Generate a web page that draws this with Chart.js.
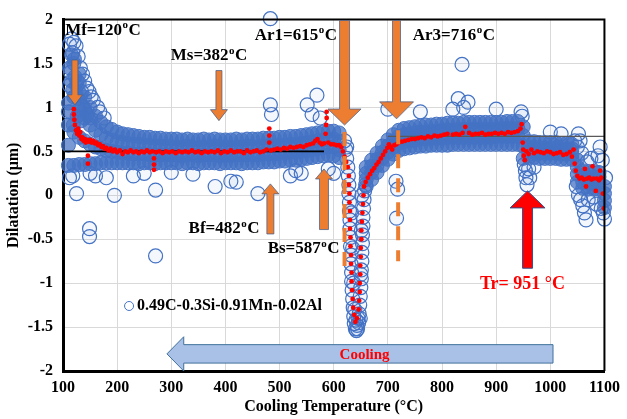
<!DOCTYPE html>
<html>
<head>
<meta charset="utf-8">
<script src="https://cdn.jsdelivr.net/npm/chart.js@4.4.1/dist/chart.umd.min.js"></script>
<style>
  html, body { margin: 0; padding: 0; background: #ffffff; }
  #dilatationChart { display: block; }
</style>
</head>
<body>
<canvas id="dilatationChart" width="627" height="419"></canvas>
<script>
// Dilatation band (row centres of the blue circle cloud)
const bandTemp = [
    110, 120, 130, 140, 150, 160, 170, 180, 190, 200,
    210, 220, 230, 240, 250, 260, 270, 280, 290, 300,
    310, 320, 330, 340, 350, 360, 370, 380, 390, 400,
    410, 420, 430, 440, 450, 460, 470, 480, 490, 500,
    510, 520, 530, 540, 550, 560, 570, 580, 590, 600, 610,
    660, 670, 680, 690, 700, 710, 720, 730, 740, 750,
    760, 770, 780, 790, 800, 810, 820, 830, 840, 850,
    860, 870, 880, 890, 900, 910, 920, 930, 940, 950,
    960, 970, 980, 990, 1000, 1010, 1020, 1030, 1040, 1050,
    1060, 1070, 1080, 1090, 1100
];
const bandTop = [
    1.05, 1.50, 1.28, 1.12, 1.00, 0.90, 0.83, 0.78, 0.75, 0.72,
    0.70, 0.69, 0.68, 0.67, 0.66, 0.66, 0.65, 0.65, 0.64, 0.64,
    0.64, 0.63, 0.64, 0.63, 0.63, 0.64, 0.63, 0.64, 0.63, 0.63,
    0.63, 0.64, 0.63, 0.64, 0.64, 0.64, 0.65, 0.65, 0.65, 0.66,
    0.66, 0.67, 0.67, 0.68, 0.69, 0.70, 0.71, 0.72, 0.73, 0.73, 0.71,
    0.32, 0.40, 0.48, 0.56, 0.63, 0.69, 0.74, 0.76, 0.77, 0.78,
    0.79, 0.80, 0.80, 0.81, 0.81, 0.82, 0.82, 0.82, 0.83, 0.83,
    0.83, 0.83, 0.83, 0.83, 0.83, 0.83, 0.84, 0.84, 0.84, 0.78,
    0.61, 0.61, 0.60, 0.60, 0.60, 0.60, 0.59, 0.59, 0.58, 0.40,
    0.28, 0.27, 0.27, 0.26, 0.10
];
const bandUpMid = [
    0.80, 1.12, 0.98, 0.88, 0.80, 0.74, 0.69, 0.65, 0.63, 0.61,
    0.60, 0.59, 0.58, 0.58, 0.57, 0.57, 0.56, 0.56, 0.56, 0.55,
    0.55, 0.55, 0.56, 0.55, 0.54, 0.55, 0.55, 0.56, 0.55, 0.55,
    0.54, 0.55, 0.55, 0.56, 0.55, 0.55, 0.56, 0.56, 0.56, 0.57,
    0.57, 0.58, 0.58, 0.59, 0.60, 0.61, 0.62, 0.63, 0.64, 0.64, 0.61,
    0.25, 0.33, 0.41, 0.49, 0.56, 0.62, 0.67, 0.69, 0.70, 0.71,
    0.72, 0.72, 0.73, 0.73, 0.74, 0.74, 0.74, 0.75, 0.75, 0.75,
    0.75, 0.75, 0.75, 0.75, 0.75, 0.76, 0.76, 0.76, 0.76, 0.68,
    0.55, 0.55, 0.54, 0.54, 0.54, 0.54, 0.53, 0.53, 0.53, 0.32,
    0.22, 0.21, 0.21, 0.21, 0.02
];
const bandLowMid = [
    0.57, 0.72, 0.66, 0.62, 0.58, 0.55, 0.53, 0.51, 0.50, 0.49,
    0.48, 0.48, 0.47, 0.47, 0.47, 0.46, 0.46, 0.46, 0.46, 0.46,
    0.46, 0.45, 0.46, 0.46, 0.45, 0.46, 0.46, 0.46, 0.45, 0.46,
    0.45, 0.46, 0.46, 0.46, 0.46, 0.46, 0.47, 0.47, 0.47, 0.48,
    0.48, 0.49, 0.49, 0.50, 0.51, 0.52, 0.53, 0.54, 0.55, 0.55, 0.52,
    0.18, 0.26, 0.34, 0.42, 0.49, 0.55, 0.59, 0.61, 0.62, 0.63,
    0.64, 0.64, 0.65, 0.65, 0.65, 0.66, 0.66, 0.66, 0.66, 0.66,
    0.66, 0.66, 0.66, 0.66, 0.67, 0.67, 0.67, 0.67, 0.67, 0.56,
    0.49, 0.49, 0.48, 0.48, 0.48, 0.48, 0.47, 0.47, 0.47, 0.24,
    0.15, 0.14, 0.14, 0.14, -0.06
];
const bandBottom = [
    0.34, 0.34, 0.35, 0.35, 0.36, 0.36, 0.37, 0.37, 0.37, 0.37,
    0.37, 0.37, 0.37, 0.36, 0.37, 0.37, 0.36, 0.37, 0.37, 0.37,
    0.37, 0.36, 0.37, 0.37, 0.36, 0.37, 0.37, 0.37, 0.36, 0.37,
    0.37, 0.37, 0.36, 0.37, 0.37, 0.37, 0.38, 0.38, 0.38, 0.39,
    0.39, 0.40, 0.40, 0.41, 0.42, 0.43, 0.44, 0.45, 0.46, 0.45, 0.43,
    0.10, 0.18, 0.26, 0.34, 0.41, 0.47, 0.51, 0.53, 0.54, 0.55,
    0.56, 0.56, 0.57, 0.57, 0.57, 0.57, 0.58, 0.58, 0.58, 0.58,
    0.58, 0.58, 0.58, 0.58, 0.58, 0.58, 0.58, 0.58, 0.58, 0.42,
    0.43, 0.43, 0.42, 0.42, 0.42, 0.42, 0.41, 0.41, 0.41, 0.15,
    0.08, 0.07, 0.07, 0.07, -0.14
];

// dense patch at the start of the record (110-150 °C)
const spikeTemp = [112, 115, 118, 122, 125, 128, 132, 136, 114, 126, 140, 145, 150, 116, 121, 130, 119, 134];
const spikeVal = [1.45, 1.30, 1.20, 1.35, 1.25, 1.10, 1.15, 1.02, 0.95, 0.90, 0.98, 0.92, 0.88, 1.60, 1.55, 1.38, 0.80, 0.85];

// the deep dip around 620-660 °C
const valleyTemp = [
    620, 622, 624, 626, 627, 628, 628, 629, 629, 630, 630, 631, 631,
    632, 632, 633, 633, 634, 635, 636, 637, 638, 640, 642, 644, 646,
    647, 648, 649, 650, 651, 651, 652, 652, 653, 653, 654, 654, 655,
    656, 657, 659,
    624, 633, 635, 637, 639, 641, 643, 645, 649, 650, 651, 652
];
const valleyVal = [
    0.62, 0.52, 0.42, 0.32, 0.22, 0.12, 0.02, -0.08, -0.18, -0.28, -0.38, -0.48, -0.58,
    -0.68, -0.78, -0.88, -0.98, -1.08, -1.18, -1.28, -1.38, -1.46, -1.52, -1.54, -1.52, -1.45,
    -1.35, -1.25, -1.15, -1.05, -0.95, -0.85, -0.75, -0.65, -0.55, -0.45, -0.35, -0.25, -0.15,
    -0.05, 0.05, 0.12,
    0.55, -0.20, -0.60, -1.00, -1.30, -1.42, -1.48, -1.40, -1.40, -0.90, -0.40, 0.00
];

// scattered single circles
const outlierTemp = [
    112, 116, 120, 124, 118, 128, 132, 136, 126, 140, 144, 148, 152, 156, 134, 114, 112, 110,
    164, 168, 176, 112, 118, 125, 150, 160, 180, 195, 149, 149, 271, 271, 381, 410, 420, 460,
    483, 483, 485, 551, 569, 560, 575, 230, 250, 300, 340, 520, 530, 540, 590, 600,
    837, 830, 848, 840, 820, 715, 716, 718, 700, 760, 900, 946, 948,
    952, 954, 955, 957, 962, 960, 970, 1000, 1020,
    1045, 1050, 1052, 1055, 1058, 1048, 1052, 1056, 1060, 1063, 1066, 1070, 1080, 1085,
    1088, 1092, 1096, 1098, 1100, 1102, 1094, 1075, 1068
];
const outlierVal = [
    1.72, 1.78, 1.74, 1.70, 1.62, 1.58, 1.45, 1.38, 1.30, 1.30, 1.22, 1.18, 1.12, 1.08, 1.18, 1.40, 1.25, 0.95,
    1.00, 0.95, 0.88, 0.20, 0.22, 0.02, 0.25, 0.22, 0.20, 0.00, -0.38, -0.47, 0.06, -0.69, 0.10, 0.16, 0.15, 0.02,
    2.01, 1.03, 0.92, 1.03, 1.14, 0.92, 0.88, 0.22, 0.25, 0.26, 0.24, 0.22, 0.28, 0.25, 0.30, 0.25,
    1.49, 1.10, 1.06, 1.00, 0.98, 0.16, -0.26, 0.07, 0.98, 0.95, 0.98, 0.95, 0.90,
    0.35, 0.28, 0.20, 0.12, 0.20, 0.30, 0.32, 0.72, 0.70,
    0.62, 0.55, 0.70, 0.62, 0.48, 0.10, 0.00, -0.05, -0.12, -0.20, -0.28, -0.05, -0.02, -0.10,
    0.45, 0.55, 0.40, -0.20, -0.27, 0.20, -0.15, 0.42, 0.38
];

// red averaged points
const avgTemp = [
    120, 120, 121, 122, 124, 126, 128, 130, 132, 134, 136, 138, 140, 142, 144, 146, 146, 148, 150, 153,
    156, 159, 162, 165, 168, 171, 174, 177, 180, 184, 188, 192, 196, 200, 205, 210, 215, 220, 225, 230,
    235, 240, 245, 250, 255, 260, 265, 268, 268, 268, 272, 278, 284, 290, 296, 302, 308, 314, 320, 326,
    332, 338, 344, 350, 356, 362, 368, 374, 380, 386, 392, 398, 404, 410, 416, 422, 428, 434, 440, 446,
    452, 458, 464, 470, 476, 481, 481, 481, 484, 490, 496, 502, 508, 514, 520, 526, 532, 538, 544, 550,
    556, 562, 566, 570, 574, 578, 582, 585, 586, 587, 587, 590, 595, 600, 605, 610, 614, 617, 620, 623,
    626, 628, 628, 629, 629, 630, 630, 630, 631, 631, 632, 632, 633, 633, 634, 635, 636, 638, 640, 643,
    646, 647, 648, 648, 649, 649, 650, 650, 651, 651, 652, 653, 654, 655, 656, 659, 663, 667, 671, 675,
    679, 683, 687, 691, 695, 699, 702, 705, 708, 712, 716, 720, 726, 732, 738, 744, 750, 756, 762, 768,
    774, 780, 786, 792, 798, 804, 810, 820, 826, 832, 838, 843, 850, 856, 862, 868, 874, 880, 886, 892,
    898, 904, 910, 916, 922, 928, 934, 940, 945, 947, 949, 950, 951, 953, 956, 960, 965, 970, 976, 982,
    988, 994, 1000, 1006, 1012, 1018, 1024, 1030, 1036, 1040, 1043, 1045, 1047, 1050, 1054, 1058, 1062, 1064, 1066, 1068,
    1072, 1076, 1078, 1080, 1084, 1086, 1090, 1092, 1094, 1097, 1099
];
const avgVal = [
    0.98, 0.92, 0.86, 0.80, 0.74, 0.70, 0.76, 0.68, 0.72, 0.64, 0.66, 0.62, 0.64, 0.60, 0.63, 0.45, 0.36, 0.61, 0.63, 0.60,
    0.62, 0.59, 0.60, 0.57, 0.58, 0.55, 0.56, 0.53, 0.54, 0.51, 0.53, 0.50, 0.52, 0.49, 0.51, 0.47, 0.50, 0.49, 0.51, 0.49,
    0.50, 0.48, 0.50, 0.49, 0.51, 0.49, 0.50, 0.42, 0.35, 0.29, 0.49, 0.50, 0.48, 0.50, 0.49, 0.50, 0.48, 0.50, 0.49, 0.50,
    0.49, 0.51, 0.49, 0.50, 0.48, 0.50, 0.49, 0.50, 0.49, 0.51, 0.48, 0.50, 0.49, 0.51, 0.49, 0.50, 0.50, 0.48, 0.51, 0.49,
    0.50, 0.51, 0.49, 0.50, 0.52, 0.60, 0.68, 0.76, 0.51, 0.52, 0.53, 0.52, 0.54, 0.53, 0.55, 0.54, 0.55, 0.56, 0.55, 0.57,
    0.58, 0.59, 0.62, 0.64, 0.60, 0.58, 0.59, 0.70, 0.80, 0.88, 0.95, 0.60, 0.58, 0.58, 0.57, 0.57, 0.55, 0.50, 0.44, 0.38,
    0.32, 0.22, 0.12, 0.02, -0.08, -0.18, -0.28, -0.38, -0.48, -0.58, -0.68, -0.78, -0.88, -0.98, -1.08, -1.18, -1.28, -1.36, -1.44, -1.40,
    -1.30, -1.20, -1.10, -1.00, -0.90, -0.80, -0.70, -0.60, -0.50, -0.40, -0.30, -0.20, -0.10, 0.00, 0.10, 0.15, 0.20, 0.24, 0.28, 0.31,
    0.35, 0.38, 0.42, 0.46, 0.50, 0.54, 0.58, 0.55, 0.52, 0.57, 0.58, 0.60, 0.61, 0.62, 0.63, 0.64, 0.64, 0.65, 0.66, 0.65,
    0.67, 0.66, 0.68, 0.67, 0.68, 0.69, 0.70, 0.69, 0.70, 0.69, 0.71, 0.78, 0.71, 0.69, 0.70, 0.70, 0.71, 0.69, 0.70, 0.70,
    0.71, 0.70, 0.71, 0.70, 0.72, 0.71, 0.72, 0.73, 0.76, 0.81, 0.60, 0.52, 0.45, 0.40, 0.50, 0.47, 0.52, 0.48, 0.50, 0.49,
    0.48, 0.50, 0.49, 0.47, 0.48, 0.49, 0.46, 0.47, 0.49, 0.44, 0.52, 0.36, 0.28, 0.22, 0.19, 0.20, 0.18, 0.30, 0.10, 0.19,
    0.20, 0.18, 0.33, 0.19, 0.05, 0.19, 0.17, 0.28, 0.20, 0.02, -0.15
];

// horizontal reference lines
const baseLineTemp = [103, 582];
const baseLineVal = [0.5, 0.5];
const upperLineTemp = [700, 1100];
const upperLineVal = [0.67, 0.67];

// axis ticks
const xTicks = [100, 200, 300, 400, 500, 600, 700, 800, 900, 1000, 1100];
const yTicks = [-2, -1.5, -1, -0.5, 0, 0.5, 1, 1.5, 2];

const seriesName = '0.49C-0.3Si-0.91Mn-0.02Al';

document.addEventListener('DOMContentLoaded', function() {
    try {
        const FONT = '"Liberation Serif", "Times New Roman", serif';
        const BLUE = '#4472C4';
        const ORANGE = '#ED7D31';

        function toPoints(xs, ys) {
            return xs.map((x, i) => ({ x: x, y: ys[i] }));
        }

        // dense core of the cloud
        const band = []
            .concat(toPoints(bandTemp, bandTop))
            .concat(toPoints(bandTemp, bandUpMid))
            .concat(toPoints(bandTemp, bandLowMid))
            .concat(toPoints(bandTemp, bandBottom))
            .concat(toPoints(spikeTemp, spikeVal));
        // loose circles
        const loose = []
            .concat(toPoints(valleyTemp, valleyVal))
            .concat(toPoints(outlierTemp, outlierVal));

        // annotation placement in data units (temperature, dilatation); sizes in px
        const downArrows = [
            { t: 122, from: 1.54, to: 1.03, shaft: 6, head: 15, headLen: 10 },
            { t: 388, from: 1.42, to: 0.85, shaft: 6, head: 17, headLen: 11 },
            { t: 620, from: 1.99, to: 0.80, shaft: 10, head: 33, headLen: 16 },
            { t: 716, from: 1.99, to: 0.87, shaft: 8, head: 34, headLen: 17 }
        ];
        const upArrows = [
            { t: 483, from: -0.44, to: 0.13, shaft: 7, head: 17, headLen: 10 },
            { t: 582, from: -0.39, to: 0.30, shaft: 9, head: 17, headLen: 10 }
        ];
        const redArrow = { t: 958, from: -0.83, to: 0.05, shaft: 10, head: 35, headLen: 17 };
        const dashedLines = [
            { t: 620, from: 0.72, to: -0.86 },
            { t: 719, from: 0.74, to: -0.75 }
        ];
        const tempLabels = [
            { text: 'Mf=120', t: 104, v: 1.88 },
            { text: 'Ms=382', t: 299, v: 1.59 },
            { text: 'Ar1=615', t: 454, v: 1.82 },
            { text: 'Ar3=716', t: 746, v: 1.82 },
            { text: 'Bf=482', t: 332, v: -0.38 },
            { text: 'Bs=587', t: 478, v: -0.61 }
        ];
        const coolingArrow = { tip: 292, headBase: 323, end: 1005, bodyTop: -1.70, bodyBottom: -1.91, headTop: -1.61, headBottom: -2.0 };

        function drawVArrow(ctx, x, yTail, yTip, shaft, head, headLen, fill, stroke) {
            const dir = yTip > yTail ? 1 : -1;
            const yBase = yTip - dir * headLen;
            ctx.beginPath();
            ctx.moveTo(x - shaft / 2, yTail);
            ctx.lineTo(x + shaft / 2, yTail);
            ctx.lineTo(x + shaft / 2, yBase);
            ctx.lineTo(x + head / 2, yBase);
            ctx.lineTo(x, yTip);
            ctx.lineTo(x - head / 2, yBase);
            ctx.lineTo(x - shaft / 2, yBase);
            ctx.closePath();
            ctx.fillStyle = fill;
            ctx.fill();
            ctx.lineWidth = 1;
            ctx.strokeStyle = stroke;
            ctx.stroke();
        }

        // label like "Mf=120" followed by a raised small "o" and "C"
        function drawTempLabel(ctx, text, x, y, size, color) {
            ctx.textAlign = 'left';
            ctx.textBaseline = 'middle';
            ctx.fillStyle = color;
            ctx.font = 'bold ' + size + 'px ' + FONT;
            ctx.fillText(text, x, y);
            const w = ctx.measureText(text).width;
            ctx.font = 'bold ' + Math.round(size * 0.62) + 'px ' + FONT;
            ctx.fillText('o', x + w + 0.5, y - size * 0.28);
            const wo = ctx.measureText('o').width;
            ctx.font = 'bold ' + size + 'px ' + FONT;
            ctx.fillText('C', x + w + wo + 1, y);
        }

        const annotationPlugin = {
            id: 'annotations',
            afterDatasetsDraw(chart) {
                const ctx = chart.ctx;
                const xs = chart.scales.x;
                const ys = chart.scales.y;
                const area = chart.chartArea;
                ctx.save();

                // frame top and right
                ctx.strokeStyle = '#000000';
                ctx.lineWidth = 2;
                ctx.beginPath();
                ctx.moveTo(area.left, area.top);
                ctx.lineTo(area.right, area.top);
                ctx.lineTo(area.right, area.bottom);
                ctx.stroke();

                // dashed orange markers
                ctx.setLineDash([14, 10]);
                ctx.strokeStyle = ORANGE;
                ctx.lineWidth = 4;
                dashedLines.forEach(d => {
                    const x = xs.getPixelForValue(d.t);
                    ctx.beginPath();
                    ctx.moveTo(x, ys.getPixelForValue(d.from));
                    ctx.lineTo(x, ys.getPixelForValue(d.to));
                    ctx.stroke();
                });
                ctx.setLineDash([]);

                downArrows.concat(upArrows).forEach(a => {
                    drawVArrow(ctx, xs.getPixelForValue(a.t), ys.getPixelForValue(a.from),
                        ys.getPixelForValue(a.to), a.shaft, a.head, a.headLen, ORANGE, 'rgba(70,95,140,0.75)');
                });
                drawVArrow(ctx, xs.getPixelForValue(redArrow.t), ys.getPixelForValue(redArrow.from),
                    ys.getPixelForValue(redArrow.to), redArrow.shaft, redArrow.head, redArrow.headLen, '#FF0000', '#2F528F');

                tempLabels.forEach(l => {
                    drawTempLabel(ctx, l.text, xs.getPixelForValue(l.t), ys.getPixelForValue(l.v), 17, '#000000');
                });

                // Tr label
                ctx.font = 'bold 18px ' + FONT;
                ctx.fillStyle = '#FF0000';
                ctx.textAlign = 'left';
                ctx.textBaseline = 'middle';
                ctx.fillText('Tr= 951 °C', xs.getPixelForValue(870), ys.getPixelForValue(-1.01));

                // cooling arrow
                const c = coolingArrow;
                ctx.beginPath();
                ctx.moveTo(xs.getPixelForValue(c.tip), ys.getPixelForValue((c.bodyTop + c.bodyBottom) / 2));
                ctx.lineTo(xs.getPixelForValue(c.headBase), ys.getPixelForValue(c.headTop));
                ctx.lineTo(xs.getPixelForValue(c.headBase), ys.getPixelForValue(c.bodyTop));
                ctx.lineTo(xs.getPixelForValue(c.end), ys.getPixelForValue(c.bodyTop));
                ctx.lineTo(xs.getPixelForValue(c.end), ys.getPixelForValue(c.bodyBottom));
                ctx.lineTo(xs.getPixelForValue(c.headBase), ys.getPixelForValue(c.bodyBottom));
                ctx.lineTo(xs.getPixelForValue(c.headBase), ys.getPixelForValue(c.headBottom));
                ctx.closePath();
                ctx.fillStyle = '#A9C1E7';
                ctx.fill();
                ctx.strokeStyle = '#41719C';
                ctx.lineWidth = 1;
                ctx.stroke();

                ctx.font = 'bold 15px ' + FONT;
                ctx.fillStyle = '#FF0000';
                ctx.textAlign = 'center';
                ctx.fillText('Cooling', xs.getPixelForValue(657), ys.getPixelForValue(-1.82));

                // legend entry inside the plot
                const lx = xs.getPixelForValue(222);
                const ly = ys.getPixelForValue(-1.26);
                ctx.beginPath();
                ctx.arc(lx, ly, 4.5, 0, Math.PI * 2);
                ctx.strokeStyle = BLUE;
                ctx.lineWidth = 1;
                ctx.stroke();
                ctx.font = 'bold 16px ' + FONT;
                ctx.fillStyle = '#000000';
                ctx.textAlign = 'left';
                ctx.fillText(seriesName, lx + 8, ly);

                ctx.restore();
            }
        };

        const ctx = document.getElementById('dilatationChart').getContext('2d');
        const dilatationChart = new Chart(ctx, {
            type: 'scatter',
            data: {
                datasets: [
                    {
                        label: 'avg',
                        data: toPoints(avgTemp, avgVal),
                        pointRadius: 2.4,
                        pointBorderWidth: 0,
                        backgroundColor: '#FF0000',
                        pointBackgroundColor: '#FF0000',
                        order: 0
                    },
                    {
                        label: 'base',
                        type: 'line',
                        data: toPoints(baseLineTemp, baseLineVal),
                        borderColor: '#000000',
                        borderWidth: 1.6,
                        pointRadius: 0,
                        order: 1
                    },
                    {
                        label: 'upper',
                        type: 'line',
                        data: toPoints(upperLineTemp, upperLineVal),
                        borderColor: '#595959',
                        borderWidth: 1.2,
                        pointRadius: 0,
                        order: 1
                    },
                    {
                        label: seriesName,
                        data: band,
                        pointRadius: 7,
                        pointBorderWidth: 1,
                        borderColor: BLUE,
                        pointBorderColor: BLUE,
                        backgroundColor: 'rgba(68,114,196,0.72)',
                        pointBackgroundColor: 'rgba(68,114,196,0.72)',
                        clip: false,
                        order: 2
                    },
                    {
                        label: seriesName + ' (loose)',
                        data: loose,
                        pointRadius: 7,
                        pointBorderWidth: 1.2,
                        borderColor: BLUE,
                        pointBorderColor: BLUE,
                        backgroundColor: 'rgba(68,114,196,0.06)',
                        pointBackgroundColor: 'rgba(68,114,196,0.06)',
                        clip: false,
                        order: 3
                    }
                ]
            },
            options: {
                responsive: false,
                animation: false,
                events: [],
                layout: { padding: { top: 17, right: 16, left: 0, bottom: 0 } },
                plugins: {
                    legend: { display: false },
                    tooltip: { enabled: false }
                },
                scales: {
                    x: {
                        type: 'linear',
                        min: xTicks[0],
                        max: xTicks[xTicks.length - 1],
                        afterBuildTicks: s => { s.ticks = xTicks.map(v => ({ value: v })); },
                        afterFit: s => { s.height = 48; },
                        ticks: {
                            padding: 7,
                            color: '#000000',
                            font: { family: FONT, size: 16, weight: 'bold' },
                            callback: v => String(v)
                        },
                        grid: { color: '#d9d9d9', drawTicks: false },
                        border: { color: '#000000', width: 3 },
                        title: {
                            display: true,
                            text: 'Cooling Temperature (°C)',
                            color: '#000000',
                            font: { family: FONT, size: 16, weight: 'bold' },
                            padding: { top: 3, bottom: 3 }
                        }
                    },
                    y: {
                        type: 'linear',
                        min: yTicks[0],
                        max: yTicks[yTicks.length - 1],
                        afterBuildTicks: s => { s.ticks = yTicks.map(v => ({ value: v })); },
                        afterFit: s => { s.width = 63; },
                        ticks: {
                            padding: 10,
                            color: '#000000',
                            font: { family: FONT, size: 16, weight: 'bold' },
                            callback: v => String(v)
                        },
                        grid: { color: '#d9d9d9', drawTicks: false },
                        border: { color: '#000000', width: 3 },
                        title: {
                            display: true,
                            text: 'Dilatation (μm)',
                            color: '#000000',
                            font: { family: FONT, size: 16, weight: 'bold' },
                            padding: { top: 4, bottom: 4 }
                        }
                    }
                }
            },
            plugins: [annotationPlugin]
        });
    } catch (e) {
        console.error('Chart init failed:', e);
    }
});
</script>
</body>
</html>
